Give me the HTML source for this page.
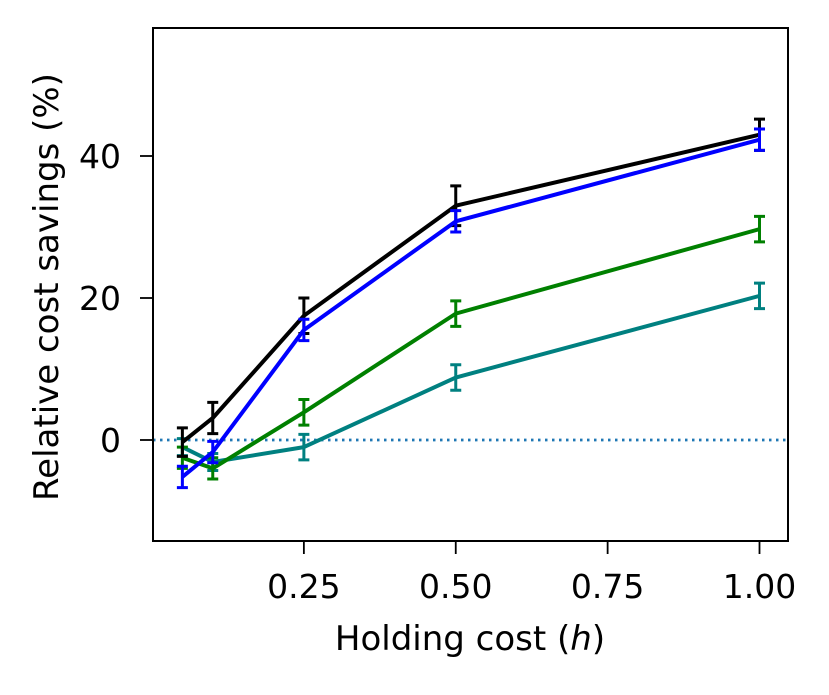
<!DOCTYPE html>
<html><head><meta charset="utf-8"><style>
body{margin:0;background:#fff;}
svg text{font-family:"DejaVu Sans","Liberation Sans",sans-serif;fill:#000;}
</style></head><body>
<svg id="chart" width="829" height="690" xmlns="http://www.w3.org/2000/svg">
<rect x="0" y="0" width="829" height="690" fill="#fff"/>
<g id="plot"></g>
<rect x="153" y="28" width="635" height="513" fill="none" stroke="#000" stroke-width="2"/>
<text x="470" y="650" font-size="34" text-anchor="middle">Holding cost (<tspan font-style="italic">h</tspan>)</text>
<text transform="translate(58,287) rotate(-90)" font-size="34" text-anchor="middle">Relative cost savings (%)</text>
</svg>
<script>
const xValues=[0.05,0.1,0.25,0.5,1.0];
const seriesBlack=[-0.3,3.1,17.5,33.0,43.0];
const seriesBlue=[-5.2,-1.7,15.5,30.8,42.3];
const seriesGreen=[-2.5,-4.0,3.9,17.8,29.7];
const seriesTeal=[-1.0,-3.1,-1.0,8.8,20.3];
const errBlack=[2.0,2.2,2.5,2.8,2.2];
const errBlue=[1.5,1.5,1.5,1.5,1.5];
const errGreen=[1.5,1.5,1.8,1.8,1.8];
const errTeal=[1.2,1.2,1.8,1.8,1.8];
const xTicks=[0.25,0.5,0.75,1.0];
const xTickLabels=["0.25","0.50","0.75","1.00"];
const yTicks=[0,20,40];
const yTickLabels=["0","20","40"];
const sx=v=>152+v*607.5;
const sy=v=>440-v*7.1;
const NS="http://www.w3.org/2000/svg";
const g=document.getElementById('plot');
function mk(t,a){const e=document.createElementNS(NS,t);for(const k in a)e.setAttribute(k,a[k]);g.appendChild(e);return e;}
const zl=mk('line',{x1:153,x2:788,y1:sy(0),y2:sy(0),stroke:'#1f77b4','stroke-width':2.8,'stroke-dasharray':'2.5,4.5'});


xTicks.forEach((t,i)=>{
 const l=mk('line',{x1:sx(t),x2:sx(t),y1:541,y2:554,stroke:'#000','stroke-width':1.8});
 
 
 const tx=mk('text',{x:sx(t),y:598,'font-size':33,'text-anchor':'middle'});tx.textContent=xTickLabels[i];
 
 
});
yTicks.forEach((t,i)=>{
 const l=mk('line',{x1:140,x2:153,y1:sy(t),y2:sy(t),stroke:'#000','stroke-width':1.8});
 
 
 const tx=mk('text',{x:121,y:sy(t)+12,'font-size':33,'text-anchor':'end'});tx.textContent=yTickLabels[i];
 
 
});
function series(vals,errs,color,name){
 const p=mk('polyline',{points:xValues.map((x,i)=>sx(x)+','+sy(vals[i])).join(' '),fill:'none',stroke:color,'stroke-width':4,'stroke-linejoin':'round'});
 
 
 xValues.forEach((x,i)=>{
  const X=sx(x),a=sy(vals[i]+errs[i]),b=sy(vals[i]-errs[i]);
  const e=mk('path',{d:`M${X},${a}V${b}M${X-5.5},${a}H${X+5.5}M${X-5.5},${b}H${X+5.5}`,stroke:color,'stroke-width':3,fill:'none'});
  
  
 });
}
series(seriesTeal,errTeal,'#008080','teal-series');
series(seriesGreen,errGreen,'#008000','green-series');
series(seriesBlack,errBlack,'#000000','black-series');
series(seriesBlue,errBlue,'#0000ff','blue-series');
</script>
</body></html>
